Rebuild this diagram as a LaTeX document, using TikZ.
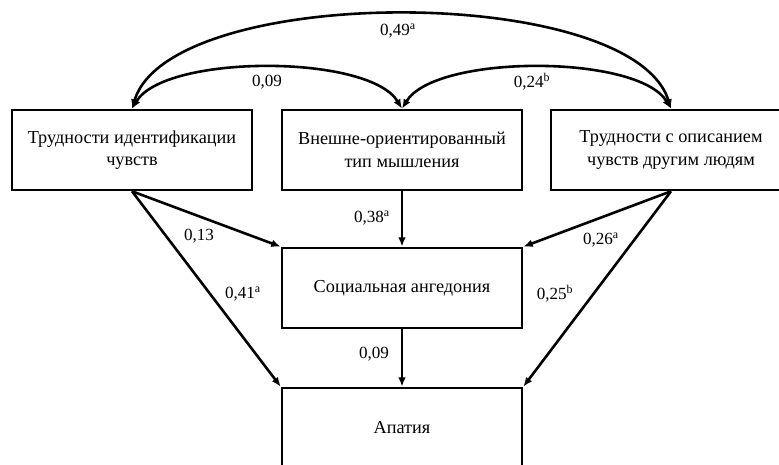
\documentclass[tikz,border=0pt]{standalone}
\usepackage{fontspec}
\setmainfont{Liberation Serif}
\usetikzlibrary{arrows.meta,positioning,calc}
\tikzset{
varbox/.style={rectangle,draw=black,line width=2.2pt,fill=white,
  minimum width=204pt,minimum height=68pt,align=center,
  font=\fontsize{15.5pt}{19pt}\selectfont},
coef/.style={inner sep=1pt,font=\fontsize{14.5pt}{16pt}\selectfont},
patharr/.style={line width=2.2pt,-{Latex[length=8pt,width=6.5pt]}},
corrarr/.style={line width=2.2pt,{Latex[length=8pt,width=6.5pt]}-{Latex[length=8pt,width=6.5pt]}}
}
\begin{document}
\begin{tikzpicture}[x=0.85pt,y=-0.85pt]
\useasboundingbox (0,0) rectangle (779,464);
\node[varbox] (tid) at (132,150) {Трудности идентификации\\чувств};
\node[varbox] (vot) at (402,150) {Внешне-ориентированный\\тип мышления};
\node[varbox] (tod) at (671,150) {Трудности с описанием\\чувств другим людям};
\node[varbox] (sa) at (402,288) {Социальная ангедония};
\node[varbox] (ap) at (402,428) {Апатия};
% correlations between the predictors
\draw[corrarr] (tid.north) .. controls (170,-17) and (632,-17) .. (tod.north);
\draw[corrarr] (tid.north) .. controls (165,54) and (369,54) .. (vot.north);
\draw[corrarr] (vot.north) .. controls (435,54) and (638,54) .. (tod.north);
% paths
\foreach \a/\b in {tid.south/sa.north west,tid.south/ap.north west,vot/sa,sa/ap,tod.south/sa.north east,tod.south/ap.north east} \draw[patharr] (\a) -- (\b);
% coefficients
\node[coef] (c1) at (398,31) {0,49\textsuperscript{a}};
\node[coef] (c2) at (267,82) {0,09};
\node[coef] (c3) at (532,82) {0,24\textsuperscript{b}};
\node[coef] (c4) at (372,218) {0,38\textsuperscript{a}};
\node[coef] (c5) at (199,236) {0,13};
\node[coef] (c6) at (243,294) {0,41\textsuperscript{a}};
\node[coef] (c7) at (601,240) {0,26\textsuperscript{a}};
\node[coef] (c8) at (555,294) {0,25\textsuperscript{b}};
\node[coef] (c9) at (374,354) {0,09};
\end{tikzpicture}
\end{document}
